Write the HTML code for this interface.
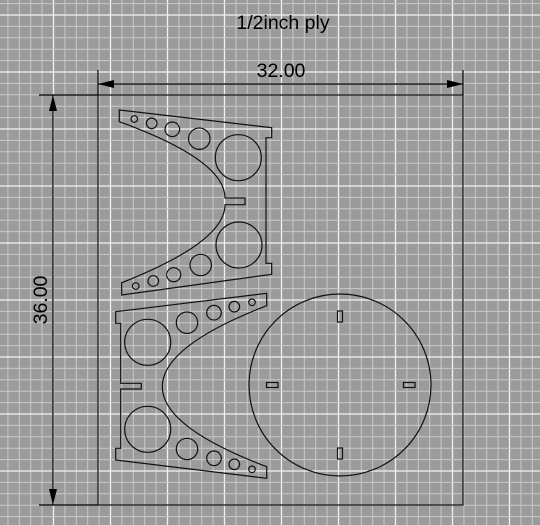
<!DOCTYPE html>
<html><head><meta charset="utf-8">
<style>
html,body{margin:0;padding:0;background:#9b9b9b;}
svg{display:block;font-family:"Liberation Sans",sans-serif;}
</style></head>
<body>
<svg id="cad" width="540" height="525" viewBox="0 0 540 525">
<rect x="0" y="0" width="540" height="525" fill="#9b9b9b"/>
<g id="grid"></g>
<g id="parts" fill="none" stroke="#111" stroke-width="1.2">
  <rect x="98" y="95" width="365" height="410"/>
  <path d="M119.3,110 L271.7,127.7 L271.7,137.7 L266,137.7 L266,263.3 L271.7,263.3 L271.7,274.3 L121.7,295 L121.7,282.7 Q225,242 225,204.7 L245,204.7 L245,198 L225,198 Q225,160 119.3,121.7 Z"/>
  <path d="M266.7,293.3 L266.7,305.7 Q162.3,346 162.3,386.7 Q162.3,427 266.7,466.7 L266.7,478.3 L115.7,460 L115.7,448.3 L120.7,448.3 L120.7,389 L141.3,389 L141.3,383.3 L120.7,383.3 L120.7,323.3 L115.7,323.3 L115.7,311.7 Z"/>
  <circle cx="340" cy="385" r="91"/>
  <rect x="337.5" y="311" width="5" height="11"/>
  <rect x="337.5" y="448" width="5" height="11"/>
  <rect x="266.5" y="382.5" width="11.5" height="5"/>
  <rect x="403.5" y="382.5" width="11.5" height="5"/>
</g>
<g id="dims" stroke="#000" stroke-width="1.2">
  <line x1="98" y1="70" x2="98" y2="95"/>
  <line x1="463" y1="70" x2="463" y2="95"/>
  <line x1="98" y1="84" x2="463" y2="84"/>
  <polygon points="98,84 114,80 114,88" fill="#000" stroke="none"/>
  <polygon points="463,84 447,80 447,88" fill="#000" stroke="none"/>
  <line x1="39" y1="95" x2="98" y2="95"/>
  <line x1="39" y1="505" x2="98" y2="505"/>
  <line x1="53" y1="95" x2="53" y2="505"/>
  <polygon points="53,95 49,111 57,111" fill="#000" stroke="none"/>
  <polygon points="53,505 49,489 57,489" fill="#000" stroke="none"/>
</g>
<text x="283" y="29" font-size="19.5" text-anchor="middle" fill="#000">1/2inch ply</text>
<text x="281" y="77" font-size="19.5" text-anchor="middle" fill="#000">32.00</text>
<text x="0" y="0" font-size="19.5" text-anchor="middle" fill="#000" transform="translate(47,300) rotate(-90)">36.00</text>
</svg>
<script>
const NS = "http://www.w3.org/2000/svg";
// hole data
const topHolesX = [134.3,151.7,172.3,199.3,238.3,239,200.7,173.7,153.3,135.7];
const topHolesY = [119,123.3,129.3,138.7,157.7,245,265,274.7,281,286];
const topHolesR = [3.3,5.3,7.3,10.7,23,23,10.7,7,5.3,3.3];
const botHolesX = [147.7,187,214,234.3,252,147.7,187,214,234.3,252];
const botHolesY = [342.3,322.7,312.7,306.7,302.3,429.3,449,458.3,464.3,469.3];
const botHolesR = [23,10.7,7.3,5.3,3.3,23,10.7,7.3,5.3,3.3];

const grid = document.getElementById('grid');
const parts = document.getElementById('parts');
function line(x1,y1,x2,y2,col,w){
  const l = document.createElementNS(NS,'line');
  l.setAttribute('x1',x1);l.setAttribute('y1',y1);l.setAttribute('x2',x2);l.setAttribute('y2',y2);
  l.setAttribute('stroke',col);l.setAttribute('stroke-width',w);
  
  
  grid.appendChild(l);
}
const step = 57/5;
for (let i=-15;i<=45;i++){
  const x = 110.5 + i*step;
  if (x<-1||x>541) continue;
  const major = (i%5===0);
  line(x,0,x,525, major?'#f2f2f2':'#c9c9c9', major?1.3:1);
}
for (let i=-15;i<=45;i++){
  const y = 129 + i*step;
  if (y<-1||y>526) continue;
  const major = (i%5===0);
  line(0,y,540,y, major?'#f2f2f2':'#c9c9c9', major?1.3:1);
}
function holes(xs,ys,rs,name){
  for (let i=0;i<xs.length;i++){
    const c = document.createElementNS(NS,'circle');
    c.setAttribute('cx',xs[i]);c.setAttribute('cy',ys[i]);c.setAttribute('r',rs[i]);
    
    
    parts.appendChild(c);
  }
}
holes(topHolesX,topHolesY,topHolesR,'top-bracket-hole');
holes(botHolesX,botHolesY,botHolesR,'bottom-bracket-hole');
</script>
</body></html>
